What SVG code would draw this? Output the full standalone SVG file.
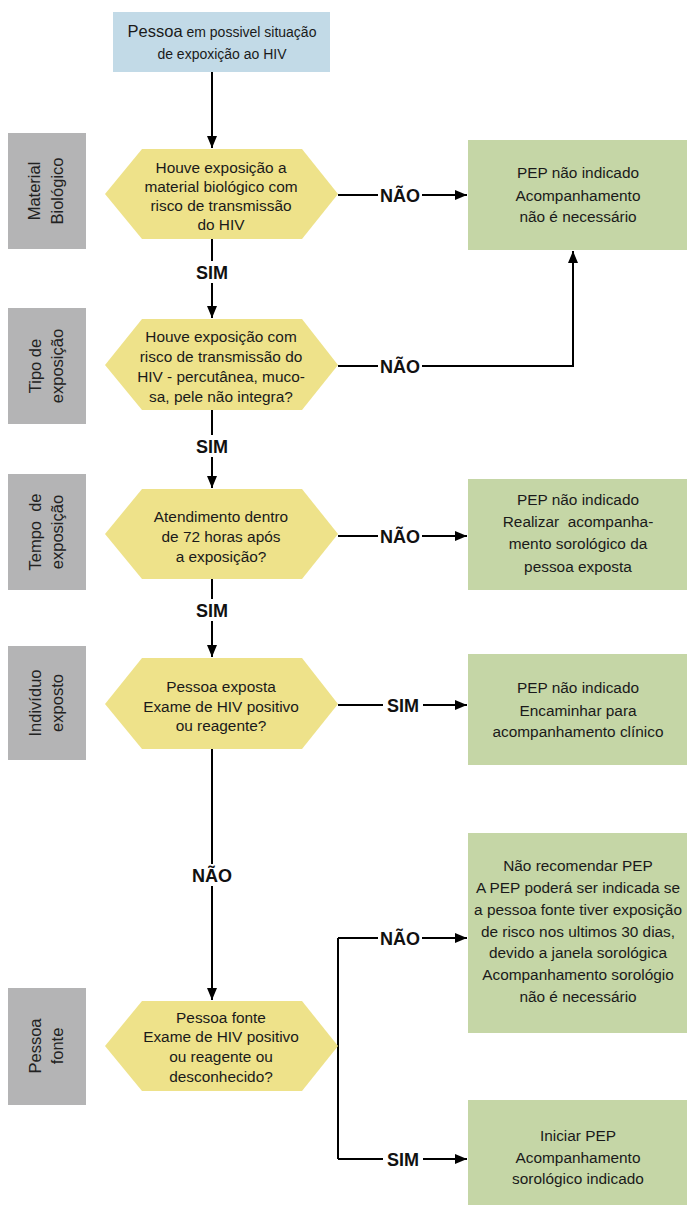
<svg xmlns="http://www.w3.org/2000/svg" width="687" height="1206" viewBox="0 0 687 1206">
<style>
text{font-family:"Liberation Sans",Arial,sans-serif;fill:#1a1a1a}
.t{font-size:15.4px;text-anchor:middle}
.side{font-size:16.5px;text-anchor:middle;fill:#222}
.lbl{font-size:18px;font-weight:bold;text-anchor:middle;fill:#111}
.hex{fill:#EEE28A}
.grn{fill:#C5D6A6}
.gry{fill:#B4B4B5}
.ln{stroke:#000;stroke-width:2;fill:none}
.bg{fill:#fff}
</style>
<defs>
<marker id="ah2" viewBox="0 0 12 10" refX="12" refY="5" markerWidth="12" markerHeight="10" markerUnits="userSpaceOnUse" orient="auto">
<path d="M0,0 L12,5 L0,10 z" fill="#000"/>
</marker>
</defs>

<g id="connectors">
<path class="ln" d="M212,72 V148" marker-end="url(#ah2)"/>
<path class="ln" d="M212,239 V318" marker-end="url(#ah2)"/>
<path class="ln" d="M212,410 V488" marker-end="url(#ah2)"/>
<path class="ln" d="M212,579 V657" marker-end="url(#ah2)"/>
<path class="ln" d="M212,749 V1000" marker-end="url(#ah2)"/>
<path class="ln" d="M338,195 H467" marker-end="url(#ah2)"/>
<path class="ln" d="M338,366 H573 V251" marker-end="url(#ah2)"/>
<path class="ln" d="M338,536 H467" marker-end="url(#ah2)"/>
<path class="ln" d="M338,705 H467" marker-end="url(#ah2)"/>
<path class="ln" d="M338,938 V1159"/>
<path class="ln" d="M338,938 H467" marker-end="url(#ah2)"/>
<path class="ln" d="M338,1159 H467" marker-end="url(#ah2)"/>
<rect class="bg" x="378" y="184" width="44" height="22"/>
<text class="lbl" x="400" y="202">NÃO</text>
<rect class="bg" x="378" y="355" width="44" height="22"/>
<text class="lbl" x="400" y="373">NÃO</text>
<rect class="bg" x="378" y="525" width="44" height="22"/>
<text class="lbl" x="400" y="543">NÃO</text>
<rect class="bg" x="383" y="694" width="40" height="22"/>
<text class="lbl" x="403" y="712">SIM</text>
<rect class="bg" x="378" y="927" width="44" height="22"/>
<text class="lbl" x="400" y="945">NÃO</text>
<rect class="bg" x="383" y="1148" width="40" height="22"/>
<text class="lbl" x="403" y="1166">SIM</text>
<rect class="bg" x="192" y="261" width="40" height="22"/>
<text class="lbl" x="212" y="279">SIM</text>
<rect class="bg" x="192" y="435" width="40" height="22"/>
<text class="lbl" x="212" y="453">SIM</text>
<rect class="bg" x="192" y="599" width="40" height="22"/>
<text class="lbl" x="212" y="617">SIM</text>
<rect class="bg" x="190" y="864" width="44" height="22"/>
<text class="lbl" x="212" y="882">NÃO</text>
</g>

<g id="start">
<rect x="113" y="12" width="217" height="60" fill="#C2DAE7"/>
<text x="222" y="37" text-anchor="middle" style="font-size:14px"><tspan style="font-size:16.5px">Pessoa</tspan> em possivel situação</text>
<text class="t" x="222" y="59" style="font-size:14px">de expoxição ao HIV</text>
</g>

<g id="side1">
<rect class="gry" x="8" y="133" width="78" height="116"/>
<text class="side" transform="translate(40,191) rotate(-90)">Material</text>
<text class="side" transform="translate(63,191) rotate(-90)">Biológico</text>
</g>
<g id="side2">
<rect class="gry" x="8" y="308" width="78" height="116"/>
<text class="side" transform="translate(41,366) rotate(-90)">Tipo de</text>
<text class="side" transform="translate(63,366) rotate(-90)">exposição</text>
</g>
<g id="side3">
<rect class="gry" x="8" y="474" width="78" height="116"/>
<text class="side" transform="translate(41,532) rotate(-90)" xml:space="preserve">Tempo  de</text>
<text class="side" transform="translate(63,532) rotate(-90)">exposição</text>
</g>
<g id="side4">
<rect class="gry" x="8" y="646" width="78" height="114"/>
<text class="side" transform="translate(41,703) rotate(-90)">Indivíduo</text>
<text class="side" transform="translate(63,703) rotate(-90)">exposto</text>
</g>
<g id="side5">
<rect class="gry" x="8" y="988" width="78" height="117"/>
<text class="side" transform="translate(41,1046) rotate(-90)">Pessoa</text>
<text class="side" transform="translate(63,1046) rotate(-90)">fonte</text>
</g>

<g id="q1">
<polygon class="hex" points="105,194 142,149 302,149 338,194 302,239 142,239"/>
<text class="t" x="221" y="173">Houve exposição a</text>
<text class="t" x="221" y="192">material biológico com</text>
<text class="t" x="221" y="211">risco de transmissão</text>
<text class="t" x="221" y="230">do HIV</text>
</g>
<g id="q2">
<polygon class="hex" points="105,365 142,319 302,319 338,365 302,410 142,410"/>
<text class="t" x="221" y="342">Houve exposição com</text>
<text class="t" x="221" y="362">risco de transmissão do</text>
<text class="t" x="221" y="382">HIV - percutânea, muco-</text>
<text class="t" x="221" y="402">sa, pele não integra?</text>
</g>
<g id="q3">
<polygon class="hex" points="105,534 142,489 302,489 338,534 302,579 142,579"/>
<text class="t" x="221" y="522">Atendimento dentro</text>
<text class="t" x="221" y="542">de 72 horas após</text>
<text class="t" x="221" y="562">a exposição?</text>
</g>
<g id="q4">
<polygon class="hex" points="105,704 142,658 302,658 338,704 302,749 142,749"/>
<text class="t" x="221" y="692">Pessoa exposta</text>
<text class="t" x="221" y="712">Exame de HIV positivo</text>
<text class="t" x="221" y="731">ou reagente?</text>
</g>
<g id="q5">
<polygon class="hex" points="105,1046 142,1001 302,1001 338,1046 302,1091 142,1091"/>
<text class="t" x="221" y="1023">Pessoa fonte</text>
<text class="t" x="221" y="1042">Exame de HIV positivo</text>
<text class="t" x="221" y="1062">ou reagente ou</text>
<text class="t" x="221" y="1082">desconhecido?</text>
</g>

<g id="r1">
<rect class="grn" x="468" y="140" width="219" height="110"/>
<text class="t" x="578" y="178">PEP não indicado</text>
<text class="t" x="578" y="201">Acompanhamento</text>
<text class="t" x="578" y="222">não é necessário</text>
</g>
<g id="r2">
<rect class="grn" x="468" y="479" width="219" height="111"/>
<text class="t" x="578" y="505">PEP não indicado</text>
<text class="t" x="578" y="527" xml:space="preserve">Realizar  acompanha-</text>
<text class="t" x="578" y="549">mento sorológico da</text>
<text class="t" x="578" y="572">pessoa exposta</text>
</g>
<g id="r3">
<rect class="grn" x="468" y="654" width="219" height="111"/>
<text class="t" x="578" y="693">PEP não indicado</text>
<text class="t" x="578" y="716">Encaminhar para</text>
<text class="t" x="578" y="737">acompanhamento clínico</text>
</g>
<g id="r4">
<rect class="grn" x="468" y="833" width="219" height="200"/>
<text class="t" x="578" y="871">Não recomendar PEP</text>
<text class="t" x="578" y="893">A PEP poderá ser indicada se</text>
<text class="t" x="578" y="915">a pessoa fonte tiver exposição</text>
<text class="t" x="578" y="937">de risco nos ultimos 30 dias,</text>
<text class="t" x="578" y="958">devido a janela sorológica</text>
<text class="t" x="578" y="980">Acompanhamento sorológio</text>
<text class="t" x="578" y="1002">não é necessário</text>
</g>
<g id="r5">
<rect class="grn" x="468" y="1100" width="219" height="105"/>
<text class="t" x="578" y="1141">Iniciar PEP</text>
<text class="t" x="578" y="1163">Acompanhamento</text>
<text class="t" x="578" y="1184">sorológico indicado</text>
</g>
</svg>
